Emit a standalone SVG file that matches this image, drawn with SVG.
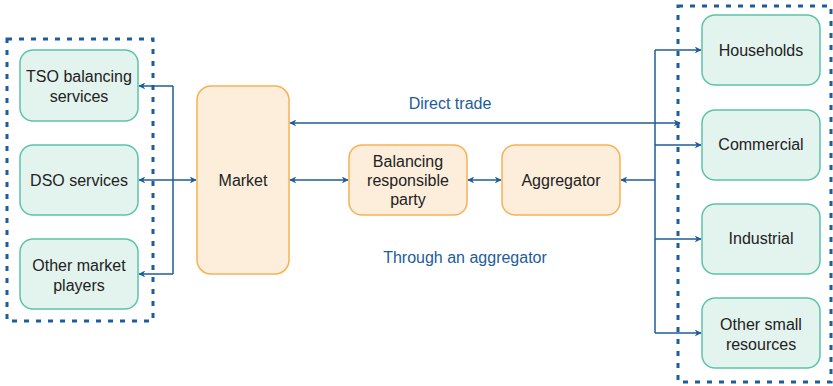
<svg xmlns="http://www.w3.org/2000/svg" width="833" height="386" viewBox="0 0 833 386">
<style>
.g{fill:#e3f3ee;stroke:#5cc4a9;stroke-width:1.5}
.o{fill:#fdeedc;stroke:#f7b154;stroke-width:1.5}
.t{font-family:"Liberation Sans",Arial,sans-serif;font-size:16px;fill:#222;text-anchor:middle}
.b{font-family:"Liberation Sans",Arial,sans-serif;font-size:16px;fill:#1d5d99;text-anchor:middle}
.c{fill:none;stroke:#1d5d99;stroke-width:1.5}
.d{fill:none;stroke:#1d5d99;stroke-width:3;stroke-dasharray:5 7}
</style>
<defs>
<marker id="a" viewBox="0 0 10 10" refX="9" refY="5" markerWidth="7" markerHeight="7" orient="auto-start-reverse" markerUnits="userSpaceOnUse">
<path d="M0,0 L10,5 L0,10 L3,5 Z" fill="#1d5d99"/>
</marker>
</defs>
<rect width="833" height="386" fill="#fff"/>
<g id="groups">
<rect class="d" x="7" y="39" width="146" height="282"/>
<rect class="d" x="678" y="6" width="153" height="376"/>
</g>
<g id="connectors">
<path class="c" d="M173,86 V274"/>
<path class="c" d="M173,86 H139" marker-end="url(#a)"/>
<path class="c" d="M173,274 H139" marker-end="url(#a)"/>
<path class="c" d="M139,180 H196" marker-start="url(#a)" marker-end="url(#a)"/>
<path class="c" d="M290,123 H680" marker-start="url(#a)" marker-end="url(#a)"/>
<path class="c" d="M290,180 H348" marker-start="url(#a)" marker-end="url(#a)"/>
<path class="c" d="M468,180 H501" marker-start="url(#a)" marker-end="url(#a)"/>
<path class="c" d="M655,50 V333"/>
<path class="c" d="M655,180 H621" marker-end="url(#a)"/>
<path class="c" d="M655,50 H701" marker-end="url(#a)"/>
<path class="c" d="M655,145 H701" marker-end="url(#a)"/>
<path class="c" d="M655,239 H701" marker-end="url(#a)"/>
<path class="c" d="M655,333 H701" marker-end="url(#a)"/>
<text class="b" x="450" y="109">Direct trade</text>
<text class="b" x="465" y="263">Through an aggregator</text>
</g>
<g id="tso"><rect class="g" x="20" y="50" width="118" height="71" rx="13"/><text class="t" x="79" y="82">TSO balancing</text><text class="t" x="79" y="102">services</text></g>
<g id="dso"><rect class="g" x="20" y="145" width="118" height="70" rx="13"/><text class="t" x="79" y="186">DSO services</text></g>
<g id="other"><rect class="g" x="20" y="239" width="118" height="70" rx="13"/><text class="t" x="79" y="271">Other market</text><text class="t" x="79" y="291">players</text></g>
<g id="market"><rect class="o" x="197" y="86" width="92" height="188" rx="14"/><text class="t" x="243" y="186">Market</text></g>
<g id="brp"><rect class="o" x="349" y="145" width="118" height="70" rx="13"/><text class="t" x="408" y="167">Balancing</text><text class="t" x="408" y="186">responsible</text><text class="t" x="408" y="205">party</text></g>
<g id="aggregator"><rect class="o" x="502" y="145" width="118" height="70" rx="13"/><text class="t" x="561" y="186">Aggregator</text></g>
<g id="households"><rect class="g" x="702" y="15" width="118" height="70" rx="13"/><text class="t" x="761" y="56">Households</text></g>
<g id="commercial"><rect class="g" x="702" y="110" width="118" height="70" rx="13"/><text class="t" x="761" y="150">Commercial</text></g>
<g id="industrial"><rect class="g" x="702" y="204" width="118" height="70" rx="13"/><text class="t" x="761" y="244">Industrial</text></g>
<g id="othersmall"><rect class="g" x="702" y="298" width="118" height="70" rx="13"/><text class="t" x="761" y="330">Other small</text><text class="t" x="761" y="350">resources</text></g>
</svg>
